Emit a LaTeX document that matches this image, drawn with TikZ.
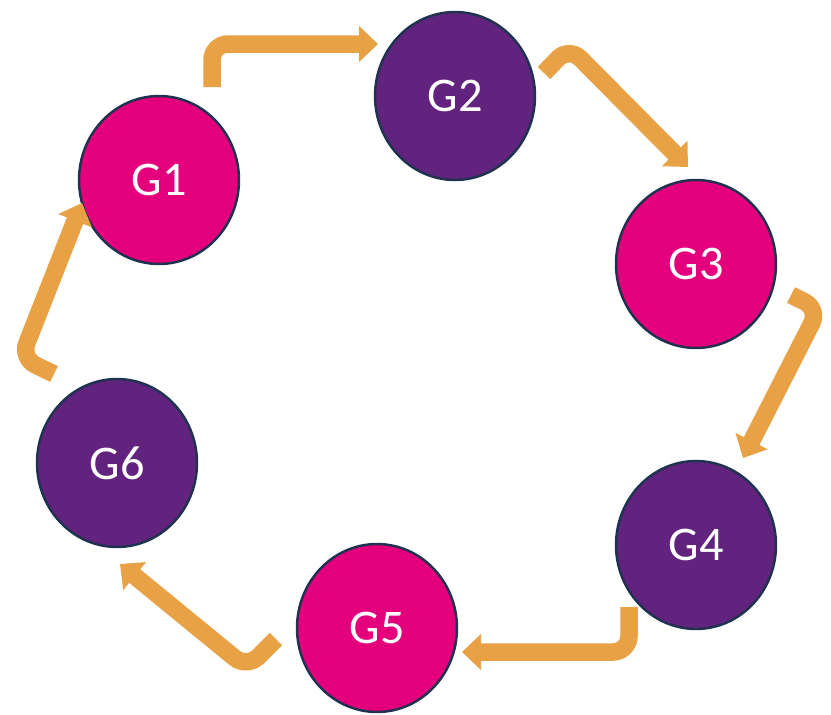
\documentclass[tikz,border=0pt]{standalone}
\usepackage{fontspec}
\setmainfont{Carlito}
\usetikzlibrary{arrows.meta,shapes.geometric}
\definecolor{gpink}{HTML}{E4007C}
\definecolor{gpurple}{HTML}{62237F}
\definecolor{gline}{HTML}{1F3250}
\definecolor{gorange}{HTML}{E8A245}
\tikzset{
	gnode/.style={ellipse, draw=gline, line width=1.4pt, minimum width=3.2cm, minimum height=3.36cm, inner sep=0pt, text=white, font=\fontsize{27.5}{32}\selectfont},
	garrow/.style={draw=gorange, line width=0.35cm, rounded corners=0.32cm, -{Triangle[width=0.7cm,length=0.38cm]}},
}

\begin{document}
\begin{tikzpicture}[x=0.02cm, y=-0.02cm]
	\useasboundingbox (0,0) rectangle (831,714);

	\node[gnode, fill=gpink] (g1) at (159,180) {G1};
	\node[gnode, fill=gpurple] (g2) at (455,96) {G2};
	\node[gnode, fill=gpink] (g3) at (696,264) {G3};
	\node[gnode, fill=gpurple] (g4) at (696,545) {G4};
	\node[gnode, fill=gpink] (g5) at (377,628) {G5};
	\node[gnode, fill=gpurple] (g6) at (117,463) {G6};

	% tail, knee and head of each arrow
	\coordinate (t1) at (212,87);  \coordinate (h1) at (378,44);
	\coordinate (t2) at (544,73);  \coordinate (k2) at (569,47);  \coordinate (h2) at (688,167);
	\coordinate (t3) at (791,295); \coordinate (k3) at (819,309); \coordinate (h3) at (743,458);
	\coordinate (t4) at (629,607); \coordinate (h4) at (462,652);
	\coordinate (t5) at (276,639); \coordinate (k5) at (247,668); \coordinate (h5) at (120,564);
	\coordinate (t6) at (54,374);  \coordinate (k6) at (21,358);  \coordinate (h6) at (82,203);

	\draw[garrow] (t1) |- (h1);
	\draw[garrow] (t2) -- (k2) -- (h2);
	\draw[garrow] (t3) -- (k3) -- (h3);
	\draw[garrow] (t4) |- (h4);
	\draw[garrow] (t5) -- (k5) -- (h5);
	\draw[garrow] (t6) -- (k6) -- (h6);
\end{tikzpicture}
\end{document}
